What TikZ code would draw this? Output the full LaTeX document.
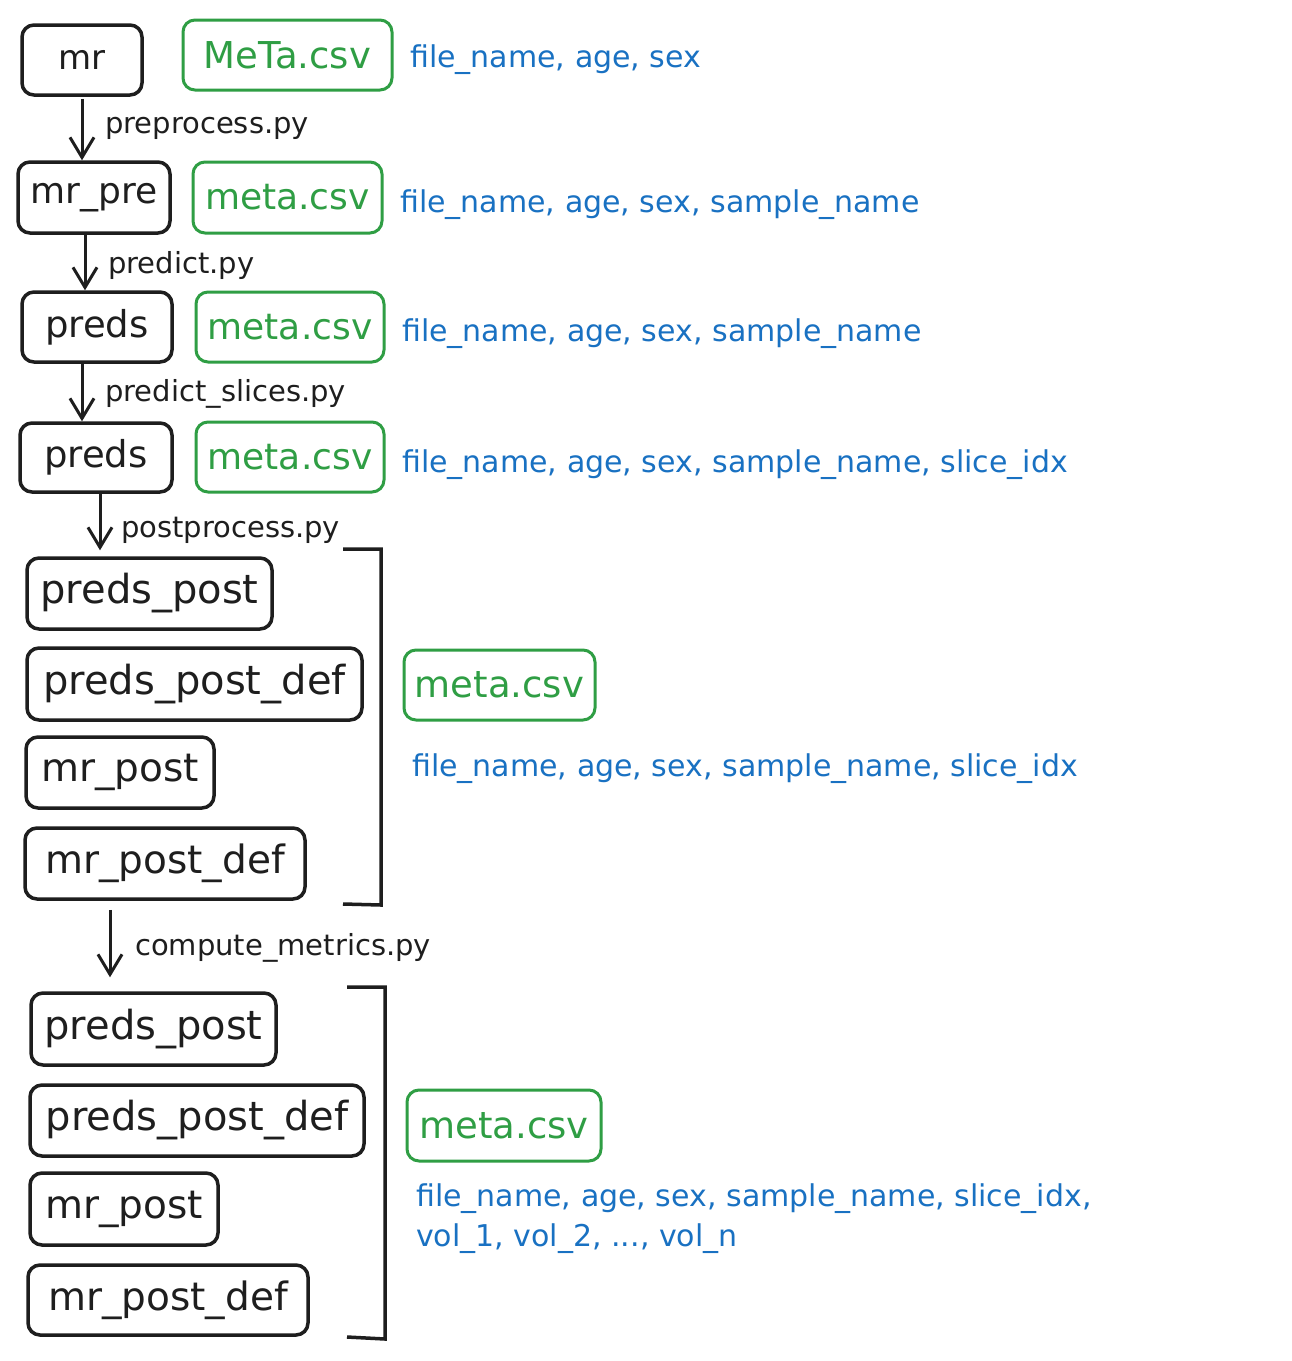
\documentclass[tikz,border=0pt]{standalone}
\usepackage{fontspec}
\setmainfont{DejaVu Sans}
\usetikzlibrary{arrows.meta,calc}
\definecolor{ink}{HTML}{1E1E1E}
\definecolor{grn}{HTML}{2F9E44}
\definecolor{blu}{HTML}{1971C2}
\newcommand{\fsz}[1]{\fontsize{#1}{#1}\selectfont}
\newcommand{\fszspaced}{\fontsize{30}{40}\selectfont}
\begin{document}
\begin{tikzpicture}[x=1pt,y=-1pt,
  blkbox/.style={draw=ink, text=ink, line width=3.5pt, rounded corners=12pt, inner sep=0pt, font=\fsz{38}},
  grnbox/.style={draw=grn, text=grn, line width=3pt, rounded corners=12pt, inner sep=0pt, font=\fsz{37}},
  bluetxt/.style={text=blu, anchor=west, inner sep=0pt, font=\fsz{30}, align=left},
  steplabel/.style={text=ink, anchor=west, inner sep=0pt, font=\fsz{29}},
  flowarrow/.style={draw=ink, line width=3pt, -{Straight Barb[length=20pt,width=24pt]}},
  brack/.style={draw=ink, line width=3.5pt}
]
\fill[white] (0,0) rectangle (1292,1361);
\useasboundingbox (0,0) rectangle (1292,1361);

% row 0
\node[blkbox, minimum width=120pt, minimum height=70pt, font=\fsz{34}] (mr) at (82,60) {mr};
\node[grnbox, minimum width=209pt, minimum height=70pt] (meta0) at (287.5,55) {MeTa.csv};
\node[bluetxt] (blue0) at (410,60) {file\_name, age, sex};

% row 1
\node[blkbox, minimum width=152pt, minimum height=71pt, font=\fsz{36}] (mrpre) at (94,197.5) {mr\_pre};
\node[grnbox, minimum width=189pt, minimum height=71pt, font=\fsz{36}] (meta1) at (287.5,197.5) {meta.csv};
\node[bluetxt] (blue1) at (400,205) {file\_name, age, sex, sample\_name};

% row 2
\node[blkbox, minimum width=150pt, minimum height=70pt, font=\fsz{37}] (preds1) at (97,327) {preds};
\node[grnbox, minimum width=188pt, minimum height=70pt, font=\fsz{36}] (meta2) at (290,327) {meta.csv};
\node[bluetxt] (blue2) at (402,334) {file\_name, age, sex, sample\_name};

% row 3
\node[blkbox, minimum width=152pt, minimum height=69pt, font=\fsz{37}] (preds2) at (96,457.5) {preds};
\node[grnbox, minimum width=188pt, minimum height=70pt, font=\fsz{36}] (meta3) at (290,457) {meta.csv};
\node[bluetxt] (blue3) at (402,465) {file\_name, age, sex, sample\_name, slice\_idx};

% group 1
\node[blkbox, minimum width=245pt, minimum height=71pt, font=\fsz{40}] (ppost1) at (149.5,593.5) {preds\_post};
\node[blkbox, minimum width=335pt, minimum height=72pt, font=\fsz{40}] (ppdef1) at (194.5,684) {preds\_post\_def};
\node[blkbox, minimum width=188pt, minimum height=71pt, font=\fsz{39}] (mpost1) at (120,772.5) {mr\_post};
\node[blkbox, minimum width=280pt, minimum height=71pt, font=\fsz{39}] (mpdef1) at (165,863.5) {mr\_post\_def};
\node[grnbox, minimum width=191pt, minimum height=70pt, font=\fsz{37}] (meta4) at (499.5,685) {meta.csv};
\node[bluetxt] (blue4) at (412,769) {file\_name, age, sex, sample\_name, slice\_idx};

% group 2
\node[blkbox, minimum width=245pt, minimum height=72pt, font=\fsz{40}] (ppost2) at (153.5,1029) {preds\_post};
\node[blkbox, minimum width=334pt, minimum height=71pt, font=\fsz{40}] (ppdef2) at (197,1120.5) {preds\_post\_def};
\node[blkbox, minimum width=188pt, minimum height=72pt, font=\fsz{39}] (mpost2) at (124,1209) {mr\_post};
\node[blkbox, minimum width=280pt, minimum height=70pt, font=\fsz{39}] (mpdef2) at (168,1300) {mr\_post\_def};
\node[grnbox, minimum width=194pt, minimum height=71pt, font=\fsz{37}] (meta5) at (504,1125.5) {meta.csv};
\node[bluetxt, anchor=north west, font=\fszspaced] (blue5) at (416,1183) {file\_name, age, sex, sample\_name, slice\_idx,\\ vol\_1, vol\_2, ..., vol\_n};

% arrows
\draw[flowarrow] ([yshift=-2pt]mr.south) -- (mr.south |- mrpre.north);
\node[steplabel] (lab1) at (105,128) {preprocess.py};
\draw[flowarrow] ([xshift=-9pt]mrpre.south) -- ([xshift=-9pt]mrpre.south |- preds1.north);
\node[steplabel] (lab2) at (108,265) {predict.py};
\draw[flowarrow] ([xshift=-15pt]preds1.south) -- ([xshift=-15pt]preds1.south |- preds2.north);
\node[steplabel] (lab3) at (105,394) {predict\_slices.py};
\draw[flowarrow] ([xshift=4pt]preds2.south) -- ([xshift=4pt,yshift=6pt]preds2.south |- ppost1.north);
\node[steplabel] (lab4) at (121,530) {postprocess.py};
\draw[flowarrow] ([xshift=-55pt,yshift=-9pt]mpdef1.south) -- ([xshift=-55pt,yshift=14pt]mpdef1.south |- ppost2.north);
\node[steplabel] (lab5) at (135,948) {compute\_metrics.py};

% brackets
\draw[brack] (343,549) -- (381,549) -- (381,905) -- (343,904);
\draw[brack] (347,987) -- (385,987) -- (385,1339) -- (347,1337);
\end{tikzpicture}
\end{document}
